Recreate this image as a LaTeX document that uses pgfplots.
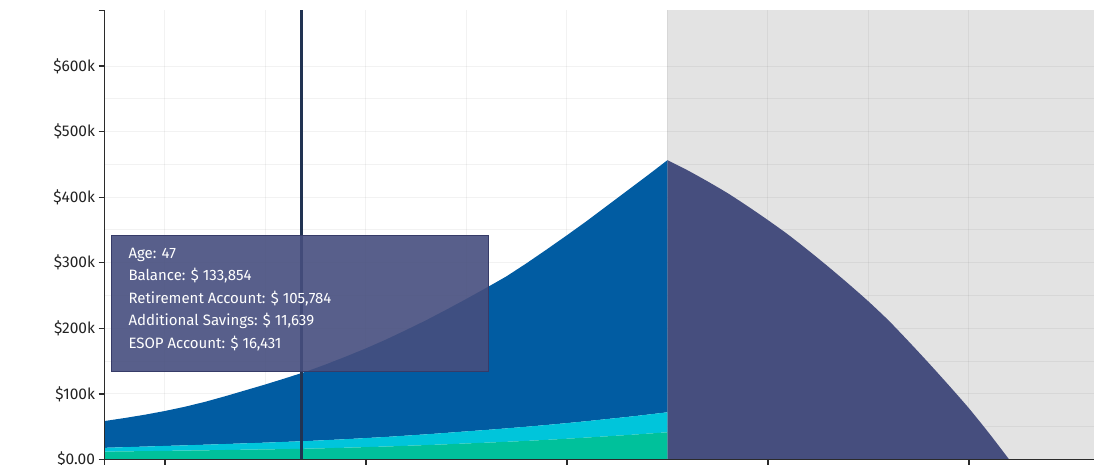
\documentclass[border=0pt]{standalone}
\usepackage{fontspec}
\setmainfont{Fira Sans}
\usepackage{pgfplots}
\pgfplotsset{compat=1.18}
\usepackage{pgfplotstable}

\definecolor{esopc}{HTML}{00C19B}
\definecolor{addc}{HTML}{00C5DB}
\definecolor{retc}{HTML}{015CA2}
\definecolor{decc}{HTML}{464E7E}
\definecolor{bgc}{HTML}{E3E3E3}
\definecolor{cursorc}{HTML}{213352}
\definecolor{axisc}{HTML}{2B2B2B}
\definecolor{labelc}{HTML}{222222}
\definecolor{tipborder}{HTML}{363B68}

% accumulation phase (values in thousands of dollars)
\pgfplotstableread{
age esop add ret
37 12.0 5.8 40.9
38 12.4 6.4 44.5
39 12.8 6.9 48.6
40 13.2 7.5 53.3
41 13.6 8.0 58.9
42 14.0 8.6 65.4
43 14.5 9.1 72.9
44 15.0 9.7 80.8
45 15.4 10.3 88.8
46 15.9 11.0 97.1
47 16.431 11.639 105.784
48 17.2 12.3 115.5
49 18.0 13.0 126.0
50 18.9 13.8 136.8
51 19.8 14.6 148.6
52 20.9 15.5 161.1
53 22.0 16.4 174.1
54 23.2 17.4 187.9
55 24.5 18.4 202.1
56 25.7 19.4 216.9
57 27.0 20.5 232.0
58 28.4 21.6 249.5
59 30.0 22.7 267.8
60 31.7 23.8 286.5
61 33.5 25.0 305.5
62 35.4 26.3 325.3
63 37.3 27.6 345.1
64 39.4 29.0 364.6
65 41.5 30.5 384.5
}\accum

% drawdown phase (balance, thousands)
\pgfplotstableread{
age bal
65 456.5
66 441
67 424
68 406
69 386
70 365
71 343
72 319
73 294
74 268
75 241
76 212
77 180
78 147
79 113
80 78
81 40
82 0
}\decum

\begin{document}
\begin{tikzpicture}
\begin{axis}[
  name=main,
  set layers,
  scale only axis, width=989.3pt, height=449.2pt,
  at={(0pt,0pt)}, anchor=south west,
  xmin=37, xmax=86.22, ymin=0, ymax=685,
  stack plots=y,
  axis x line*=bottom, axis y line*=left,
  axis line style={draw=axisc, line width=1.3pt, -},
  xtick={40,50,...,80}, xticklabels={},
  minor x tick num=1,
  ytick={0,100,...,600},
  yticklabels={\$0.00,\$100k,\$200k,\$300k,\$400k,\$500k,\$600k},
  minor y tick num=1,
  grid=both,
  grid style={draw=black, draw opacity=0.05, line width=1pt},
  minor grid style={draw=black, draw opacity=0.05, line width=1pt},
  tick align=outside, major tick length=6pt, minor tick length=0pt,
  tick style={draw=axisc, line width=1.3pt},
  yticklabel style={font=\fontsize{15.5}{17}\selectfont, text=labelc, inner sep=0pt, xshift=-3.5pt},
  extra y ticks={685}, extra y tick labels={},
  extra x ticks={37}, extra x tick labels={},
  extra tick style={grid=none},
]
\addplot[stack plots=false, fill=bgc, draw=none, on layer=axis background]
  coordinates {(65,685) (86.22,685)} \closedcycle;
\addplot[fill=esopc, draw=none] table[x=age,y=esop]{\accum} \closedcycle;
\addplot[fill=addc, draw=none] table[x=age,y=add]{\accum} \closedcycle;
\addplot[fill=retc, draw=none] table[x=age,y=ret]{\accum} \closedcycle;
\addplot[stack plots=false, fill=decc, draw=none, smooth, tension=0.4] table[x=age,y=bal]{\decum} \closedcycle;
\coordinate (curB) at (axis cs:46.8,0);
\coordinate (curT) at (axis cs:46.8,685);
\end{axis}
% hover cursor at age 46.8 and axis lines, drawn above the areas
\draw[cursorc, line width=2.5pt] (curB) -- (curT);
\draw[axisc, line width=1.3pt] (main.north west) -- (main.south west) -- (main.south east);
% tooltip
\fill[decc, fill opacity=0.9] (7.0pt,87.8pt) rectangle (383.6pt,223.8pt);
\draw[tipborder, line width=1pt] (7.0pt,87.8pt) rectangle (383.6pt,223.8pt);
\begin{scope}[every node/.style={anchor=base west, inner sep=0pt, text=white, font=\fontsize{15}{17}\selectfont}]
\node at (23.6pt,201.5pt) {Age: 47};
\node at (23.6pt,178.9pt) {Balance: \$ 133,854};
\node at (23.6pt,156.3pt) {Retirement Account: \$ 105,784};
\node at (23.6pt,133.7pt) {Additional Savings: \$ 11,639};
\node at (23.6pt,111.1pt) {ESOP Account: \$ 16,431};
\end{scope}
\pgfresetboundingbox
\useasboundingbox (-104.7pt,-4.5pt) rectangle (989.3pt,459.5pt);
\end{tikzpicture}
\end{document}
